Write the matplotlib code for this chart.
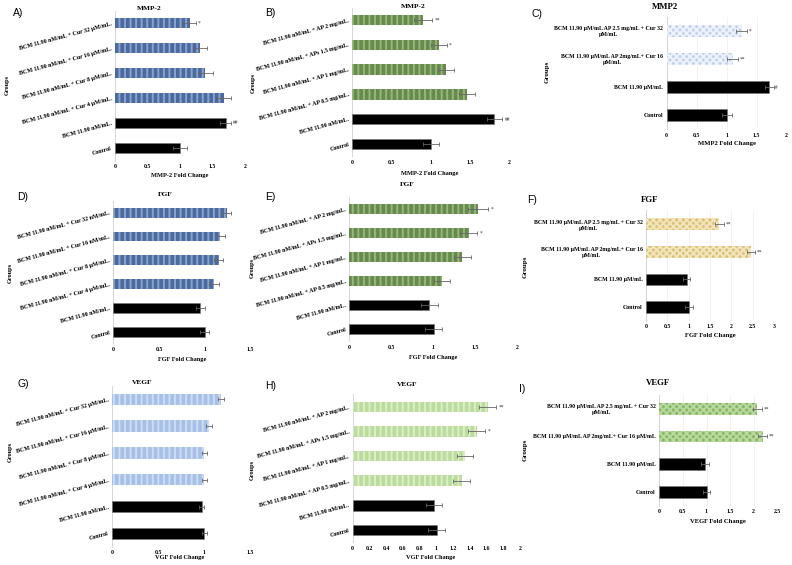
import matplotlib
matplotlib.use("Agg")
import matplotlib.pyplot as plt
import numpy as np

plt.rcParams['hatch.linewidth'] = 1.4
SERIF = ['Liberation Serif', 'DejaVu Serif']
SANS = ['Liberation Sans', 'DejaVu Sans']

W, H = 792, 565

# ---------------- data (bottom -> top) ----------------
labels_a = ["Control", "BCM 11.90 nM/mL.", "BCM 11.90 nM/mL + Cur 4 µM/mL.",
            "BCM 11.90 nM/mL + Cur 8 µM/mL.", "BCM 11.90 nM/mL + Cur 16 µM/mL.",
            "BCM 11.90 nM/mL + Cur 32 µM/mL."]
vals_a = [1.00, 1.70, 1.67, 1.39, 1.31, 1.15]
err_a = [0.11, 0.09, 0.12, 0.12, 0.11, 0.10]
sig_a = ["", "##", "", "", "", "*"]

labels_b = ["Control", "BCM 11.90 nM/mL.", "BCM 11.90 nM/mL + AP 0.5 mg/mL.",
            "BCM 11.90 nM/mL + AP 1 mg/mL.", "BCM 11.90 nM/mL + APs 1.5 mg/mL.",
            "BCM 11.90 nM/mL + AP 2 mg/mL."]
vals_b = [1.00, 1.81, 1.46, 1.19, 1.10, 0.90]
err_b = [0.10, 0.10, 0.10, 0.10, 0.10, 0.12]
sig_b = ["", "##", "", "", "*", "**"]

labels_c = ["Control", "BCM 11.90 µM/mL",
            "BCM 11.90 µM/mL AP 2mg/mL+ Cur 16\nµM/mL",
            "BCM 11.90 µM/mL AP 2.5 mg/mL + Cur 32\nµM/mL"]
vals_c = [1.00, 1.71, 1.10, 1.25]
err_c = [0.08, 0.07, 0.09, 0.09]
sig_c = ["", "#", "**", "*"]

labels_d = ["Control", "BCM 11.90 nM/mL.", "BCM 11.90 nM/mL + Cur 4 µM/mL.",
            "BCM 11.90 nM/mL + Cur 8 µM/mL.", "BCM 11.90 nM/mL + Cur 16 nM/mL.",
            "BCM 11.90 nM/mL + Cur 32 nM/mL."]
vals_d = [1.00, 0.95, 1.10, 1.15, 1.17, 1.24]
err_d = [0.05, 0.05, 0.05, 0.05, 0.05, 0.05]
sig_d = ["", "", "", "", "", ""]

labels_e = labels_b
vals_e = [1.00, 0.95, 1.10, 1.34, 1.42, 1.53]
err_e = [0.10, 0.10, 0.10, 0.10, 0.10, 0.12]
sig_e = ["", "", "", "", "*", "*"]

labels_f = ["Control", "BCM 11.90 µM/mL",
            "BCM 11.90 µM/mL AP 2mg/mL+ Cur 16\nµM/mL",
            "BCM 11.90 µM/mL AP 2.5 mg/mL + Cur 32\nµM/mL"]
vals_f = [1.01, 0.95, 2.46, 1.72]
err_f = [0.10, 0.08, 0.10, 0.10]
sig_f = ["", "", "**", "**"]

labels_g = ["Control", "BCM 11.90 nM/mL.", "BCM 11.90 nM/mL + Cur 4 µM/mL.",
            "BCM 11.90 nM/mL + Cur 8 µM/mL.", "BCM 11.90 nM/mL + Cur 16 µM/mL.",
            "BCM 11.90 nM/mL + Cur 32 µM/mL."]
vals_g = [1.00, 0.97, 1.00, 1.00, 1.05, 1.18]
err_g = [0.03, 0.03, 0.03, 0.03, 0.03, 0.03]
sig_g = ["", "", "", "", "", ""]

labels_h = labels_b
vals_h = [1.00, 0.97, 1.30, 1.34, 1.48, 1.61]
err_h = [0.10, 0.10, 0.10, 0.10, 0.10, 0.10]
sig_h = ["", "", "", "", "*", "**"]

labels_i = ["Control", "BCM 11.90 µM/mL",
            "BCM 11.90 µM/mL AP 2mg/mL+ Cur 16 µM/mL",
            "BCM 11.90 µM/mL AP 2.5 mg/mL + Cur 32\nµM/mL"]
vals_i = [1.00, 0.97, 2.19, 2.08]
err_i = [0.08, 0.08, 0.10, 0.10]
sig_i = ["", "", "**", "**"]

fig = plt.figure(figsize=(7.92, 5.65), dpi=100)


def add_ax(x0, x1, ytop, ybot):
    return fig.add_axes([x0 / W, 1 - ybot / H, (x1 - x0) / W, (ybot - ytop) / H])


def ftext(x, y, s, **kw):
    fig.text(x / W, 1 - y / H, s, **kw)


def panel(rect, labels, vals, errs, sigs, xmax, xstep, face, hatchc, hatch,
          rotate=True, grid=False):
    ax = add_ax(*rect)
    n = len(vals)
    y = np.arange(n)
    for i in range(n):
        if i < 2:
            ax.barh(y[i], vals[i], height=0.42, color='black', edgecolor='#777777',
                    linewidth=0.4, zorder=3)
        else:
            ax.barh(y[i], vals[i], height=0.42, color=face, edgecolor=hatchc,
                    hatch=hatch, linewidth=0, zorder=3)
        ax.errorbar(vals[i], y[i], xerr=errs[i], fmt='none', ecolor='#666666',
                    elinewidth=0.6, capsize=1.2, capthick=0.6, zorder=4)
        if sigs[i]:
            ax.text(vals[i] + errs[i] + xmax * 0.015, y[i], sigs[i], fontsize=4,
                    va='center', ha='left', family=SERIF, color='#333333')
    ax.set_xlim(0, xmax)
    ax.set_ylim(-0.5, n - 0.5)
    ticks = np.arange(0, xmax + 1e-9, xstep)
    ax.set_xticks(ticks)
    ax.set_xticklabels([('%g' % t) for t in ticks], fontsize=4.2, family=SERIF,
                       fontweight='bold')
    ax.set_yticks(y)
    if rotate:
        ax.set_yticklabels(labels, fontsize=4.3, family=SERIF, fontweight='bold',
                           rotation=15, ha='right', rotation_mode='anchor')
    else:
        ax.set_yticklabels(labels, fontsize=4.2, family=SERIF, fontweight='bold',
                           ha='right', multialignment='center')
    ax.tick_params(length=0, pad=2.5)
    for s in ['top', 'right', 'bottom']:
        ax.spines[s].set_visible(False)
    ax.spines['left'].set_color('#d0d0d0')
    ax.spines['left'].set_linewidth(0.6)
    if grid:
        ax.set_axisbelow(True)
        ax.grid(axis='x', color='#ececec', linewidth=0.5)
    ax.set_facecolor('none')
    return ax


# Top row
axA = panel((115, 245, 10.5, 160.5), labels_a, vals_a, err_a, sig_a, 2, 0.5,
            '#4a6aa0', '#8aa3cc', '|||')
axB = panel((352.3, 509.3, 7.6, 156.4), labels_b, vals_b, err_b, sig_b, 2, 0.5,
            '#678b4c', '#97b67d', '|||')
axC = panel((666.7, 786.7, 16.6, 129.4), labels_c, vals_c, err_c, sig_c, 2, 0.5,
            '#c3d3ee', '#eef3fb', 'xxxxx', rotate=False, grid=True)
# Middle row
axD = panel((113.3, 250.7, 200.8, 343.6), labels_d, vals_d, err_d, sig_d, 1.5, 0.5,
            '#4a6aa0', '#8aa3cc', '|||')
axE = panel((349.3, 517.7, 197.3, 341.3), labels_e, vals_e, err_e, sig_e, 2, 0.5,
            '#678b4c', '#97b67d', '|||')
axF = panel((646, 774, 210.5, 320.8), labels_f, vals_f, err_f, sig_f, 3, 0.5,
            '#dcc27a', '#f3e6bd', 'xxxxx', rotate=False, grid=True)
# Bottom row
axG = panel((112, 250.7, 385.9, 546.7), labels_g, vals_g, err_g, sig_g, 1.5, 0.5,
            '#a6c0e8', '#cddcf3', '|||')
axH = panel((352.7, 520.3, 394.4, 542.3), labels_h, vals_h, err_h, sig_h, 2, 0.2,
            '#bcdc9c', '#dcedcb', '|||')
axI = panel((659.3, 777.3, 394.8, 505.9), labels_i, vals_i, err_i, sig_i, 2.5, 0.5,
            '#86b862', '#b9d9a0', 'xxxxx', rotate=False, grid=True)

# Titles
tk = dict(family=SERIF, fontweight='bold', ha='center', va='center')
ftext(149, 8, "MMP-2", fontsize=5.3, **tk)
ftext(413, 6, "MMP-2", fontsize=5.3, **tk)
ftext(665, 7, "MMP2", fontsize=6.3, **tk)
ftext(165, 195, "FGF", fontsize=5.3, **tk)
ftext(407, 184, "FGF", fontsize=5.3, **tk)
ftext(650, 200, "FGF", fontsize=6.3, **tk)
ftext(142, 383, "VEGF", fontsize=5.3, **tk)
ftext(407, 385, "VEGF", fontsize=5.3, **tk)
ftext(658, 383, "VEGF", fontsize=6.3, **tk)

# x labels
ftext(180, 176, "MMP-2 Fold Change", fontsize=4.6, **tk)
ftext(430, 173, "MMP-2 Fold Change", fontsize=4.6, **tk)
ftext(727, 144, "MMP2 Fold Change", fontsize=4.8, **tk)
ftext(182, 359, "FGF Fold Change", fontsize=4.6, **tk)
ftext(433, 357, "FGF Fold Change", fontsize=4.6, **tk)
ftext(710, 335, "FGF Fold Change", fontsize=4.8, **tk)
ftext(180, 558, "VGF Fold Change", fontsize=4.6, **tk)
ftext(431, 558, "VGF Fold Change", fontsize=4.6, **tk)
ftext(718, 521, "VEGF Fold Change", fontsize=4.8, **tk)

# Groups labels
gk = dict(family=SERIF, fontweight='bold', ha='center', va='center', rotation=90)
for (x, yy, fs) in [(7, 85, 4.5), (253, 83, 4.5), (547, 72, 5),
                    (10, 273, 4.5), (252, 268, 4.5), (525, 267, 5),
                    (10, 452, 4.5), (252, 470, 4.5), (525, 450, 5)]:
    ftext(x, yy, "Groups", fontsize=fs, **gk)

# Panel letters
lk = dict(family=SANS, fontsize=7.5, ha='left', va='center')
for (x, yy, s) in [(13, 13, "A)"), (265, 13, "B)"), (532, 14, "C)"),
                   (17, 197, "D)"), (265, 197, "E)"), (527, 200, "F)"),
                   (17, 384, "G)"), (265, 386, "H)"), (519, 389, "I)")]:
    ftext(x, yy, s, **lk)

fig.savefig("out.png", dpi=100)
